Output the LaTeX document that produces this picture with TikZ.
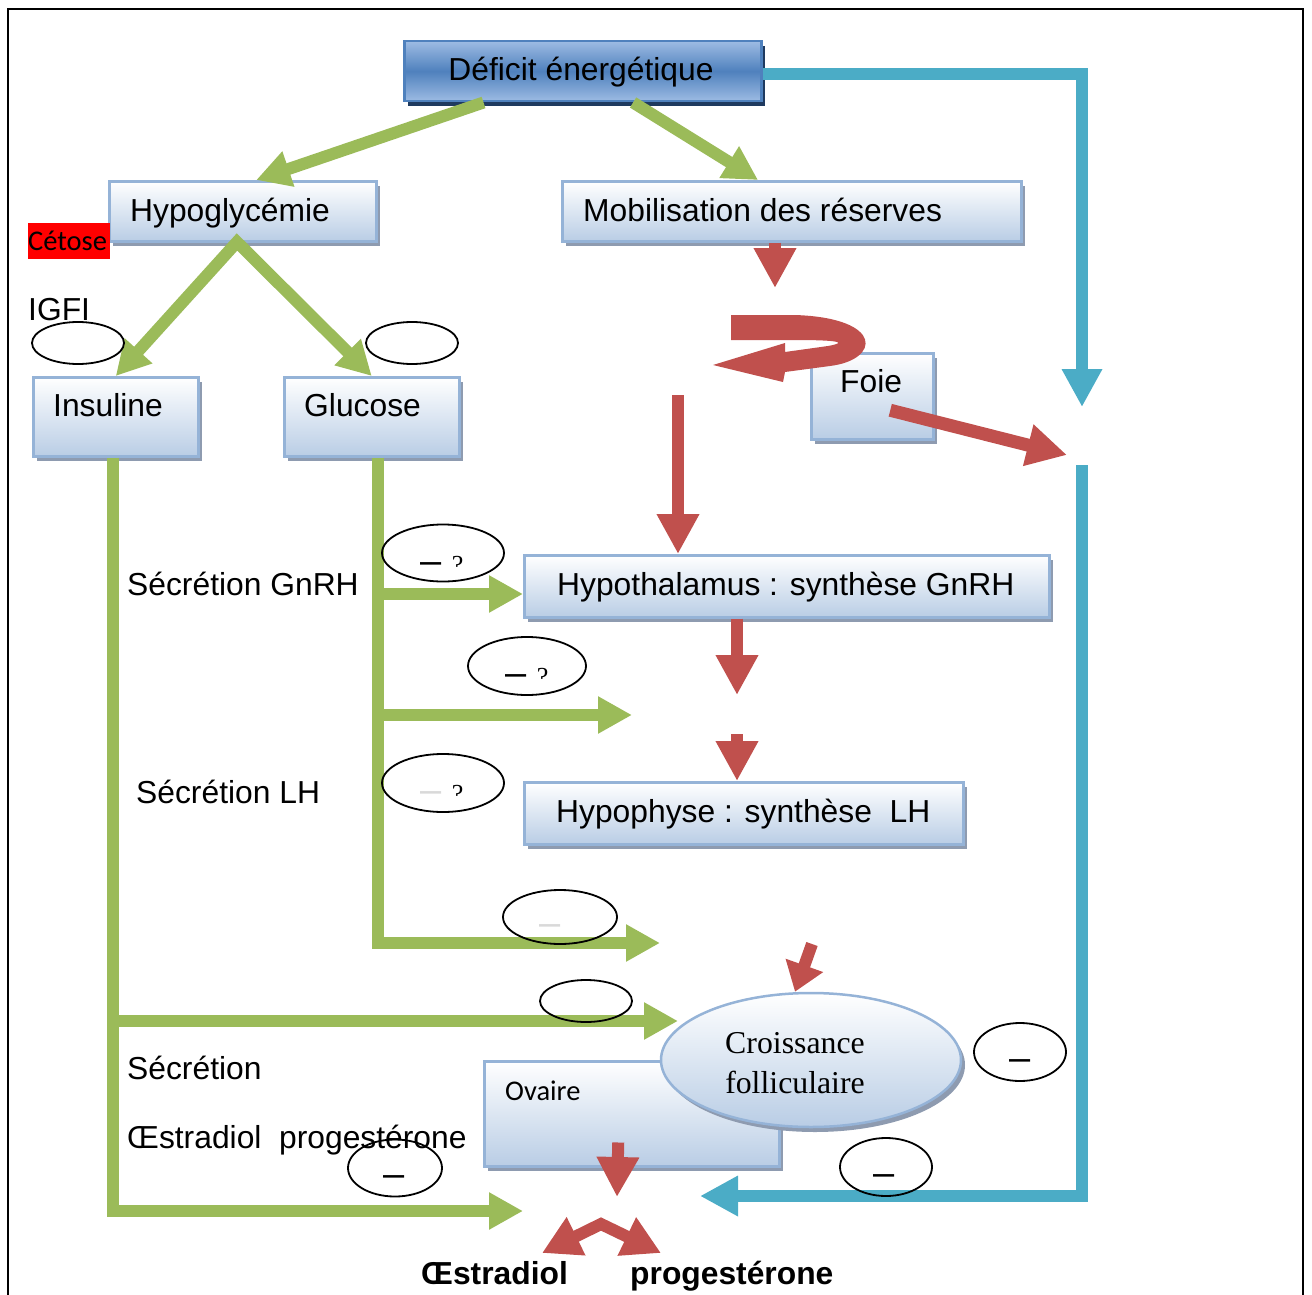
\documentclass[tikz,border=0pt]{standalone}
\usepackage{fontspec}
\setmainfont{Liberation Sans}
\newfontfamily\serifft{Liberation Serif}
\newfontfamily\calfont{Carlito}
\usepackage{tikz}
\usetikzlibrary{arrows.meta,shapes.geometric,shadows,calc}

\definecolor{grn}{HTML}{9BBB59}
\definecolor{rd}{HTML}{C0504D}
\definecolor{cyn}{HTML}{4BACC6}
\definecolor{bxb}{HTML}{95B3D7}
\definecolor{bxf}{HTML}{B9CDE5}
\definecolor{shd}{HTML}{8E9BB0}
\definecolor{dkb}{HTML}{4F81BD}
\definecolor{dkl}{HTML}{9DBBE3}
\definecolor{nvy}{HTML}{1F3A5F}

\newcommand\smq{{\serifft\fontsize{26}{28}\selectfont ?}}

\tikzset{
  bx/.style={draw=bxb, line width=2.5pt, top color=white, bottom color=bxf,
    inner sep=0pt, anchor=north west,
    drop shadow={shadow xshift=4pt, shadow yshift=-5pt, fill=#1, opacity=1}},
  bx/.default=shd,
  txt/.style={inner sep=0pt, anchor=base west, font=\fontsize{31.8}{38}\selectfont},
  garr/.style={draw=grn, line width=12pt, -{Triangle[width=35pt,length=34pt]}},
  rarr/.style={draw=rd, line width=12pt, -{Triangle[width=40pt,length=40pt]}},
  carr/.style={draw=cyn, line width=12pt, -{Triangle[width=38pt,length=38pt]}},
  oval/.style={draw, ellipse, line width=1.8pt, inner sep=0pt},
  mk/.style={inner sep=0pt, anchor=base west, font=\fontsize{38}{40}\selectfont},
}

\begin{document}
\begin{tikzpicture}[x=1pt,y=-1pt,line join=miter]
\useasboundingbox (0,0) rectangle (1312,1295);
% cadre
\draw[line width=2.5pt] (8,1300) |- (1303,9) -- (1303,1300);

% boites
\node[bx=nvy, draw=dkb, top color=dkl, bottom color=dkl, middle color=dkb,
  minimum width=357pt, minimum height=60pt] (deficit) at (403,40) {};
\node[bx, minimum width=267pt, minimum height=60pt] (hypo) at (108,180) {};
\node[bx, minimum width=459pt, minimum height=60pt] (mobil) at (561,180) {};
\node[bx, minimum width=165pt, minimum height=79pt] (insul) at (32,376) {};
\node[bx, minimum width=175pt, minimum height=79pt] (gluc) at (283,376) {};
\node[bx, minimum width=122pt, minimum height=86pt] (foie) at (810,352) {};
\node[bx, minimum width=525pt, minimum height=62pt] (hypoth) at (523,554) {};
\node[bx, minimum width=439pt, minimum height=62pt] (hypoph) at (523,781) {};
\node[bx, minimum width=295pt, minimum height=105pt] (ovaire) at (483,1060) {};
\node[bx, ellipse, anchor=center, minimum width=300pt, minimum height=134pt] (croiss) at (811,1060) {};
\node[fill=red, anchor=north west, minimum height=36pt, inner sep=0pt, text width=82pt,
  font=\calfont\fontsize{28.5}{30}\selectfont] (cetose) at (28,223) {Cétose};

% points libres
\coordinate (apex) at (237,242);
\coordinate (glB) at ($(gluc.south west)!.535!(gluc.south east)$);
\coordinate (insB) at ($(insul.south west)!.485!(insul.south east)$);
\coordinate (lhTip) at (632,715);
\coordinate (fTip) at (660,943);
\coordinate (croTip) at (678,1021);
\coordinate (oeTip) at (523,1211);
\coordinate (cyTop) at (1082,407);
\coordinate (cyBot) at (1082,465);
\coordinate (ovTip) at (700,1196);
\coordinate (foTip) at (775,288);
\coordinate (cyGap) at (1067,455);
\coordinate (hyIn) at (678,395);
\coordinate (lhA) at (737,695);
\coordinate (lhB) at (737,734);
\coordinate (crIn) at (812,944);
\coordinate (hoTip) at (617,1197);
\coordinate (spl) at (601,1224);
\coordinate (oeArr) at (542,1253);
\coordinate (prArr) at (661,1253);

% fleches vertes
\draw[garr] ($(deficit.south west)!.224!(deficit.south east)$) -- ($(hypo.north west)!.55!(hypo.north east)$);
\draw[garr] ($(deficit.south west)!.64!(deficit.south east)$) -- ($(mobil.north west)!.427!(mobil.north east)$);
\draw[garr, {Triangle[width=35pt,length=34pt]}-{Triangle[width=35pt,length=34pt]}] (insul.north) -- (apex) -- (gluc.north);
\draw[garr] (insB) |- (oeTip);
\draw[garr] (insB |- croTip) -- (croTip);
\draw[garr] (glB) |- (fTip);
\draw[garr] (glB |- 0,594) -- (hypoth.west |- 0,594);
\draw[garr] (glB |- lhTip) -- (lhTip);

% fleches bleues
\draw[carr] ([yshift=-3pt]deficit.east) -| (cyTop);
\draw[carr] (cyBot) |- (ovTip);

% fleches rouges
\draw[rarr] (mobil.south -| foTip) -- (foTip);
\fill[rd] (731,315) -- (795,315) .. controls (885,318) and (880,360) .. (830,366)
  -- (785,372) -- (783,382) -- (713,365) -- (785,343) -- (785,352) -- (828,346)
  .. controls (850,342) and (835,340) .. (795,340) -- (731,340) -- cycle;
\draw[rarr, line width=13pt] ($(foie.center)+(18,14)$) -- (cyGap);
\draw[rarr] (hyIn) -- (hypoth.north -| hyIn);
\draw[rarr] (hypoth.south -| lhA) -- (lhA);
\draw[rarr] (lhB) -- (hypoph.north -| lhB);
\draw[rarr, -{Triangle[width=38pt,length=28pt]}] (crIn) -- (croiss.north -| 795,0);
\draw[rarr] ($(ovaire.south)+(-13.5,-25)$) -- (hoTip);
\draw[draw=rd, line width=12pt, {Triangle[width=40pt,length=38pt]}-{Triangle[width=40pt,length=38pt]}] (oeArr) -- (spl) -- (prArr);

% textes
\node[txt, anchor=base] (tDef) at (581,81) {Déficit énergétique};
\node[txt] (tHypo) at (130,221) {Hypoglycémie};
\node[txt] (tMob) at (583,221) {Mobilisation des réserves};
\node[txt] (tIgf) at (28,320) {IGFI};
\node[txt] (tIns) at (53,416) {Insuline};
\node[txt] (tGlu) at (304,416) {Glucose};
\node[txt] (tFoie) at (840,392) {Foie};
\node[txt] (tGnrh) at (127,595) {Sécrétion GnRH};
\node[txt] (tHth) at (557,595) {Hypothalamus : synthèse GnRH};
\node[txt] (tLh) at (136,803) {Sécrétion LH};
\node[txt] (tHph) at (556,822) {Hypophyse : synthèse\ \ LH};
\node[txt] (tSec) at (127,1079) {Sécrétion};
\node[txt] (tOp) at (127,1148) {Œstradiol\ \ progestérone};
\node[txt, font=\calfont\fontsize{28.5}{30}\selectfont] (tOva) at (505,1100) {Ovaire};
\node[txt, anchor=base, font=\serifft\fontsize{31.8}{38}\selectfont] (tCro1) at (795,1053) {Croissance};
\node[txt, anchor=base, font=\serifft\fontsize{31.8}{38}\selectfont] (tCro2) at (795,1093) {folliculaire};
\node[txt, font=\bfseries\fontsize{31.8}{38}\selectfont] (tOe) at (421,1284) {Œstradiol};
\node[txt, font=\bfseries\fontsize{31.8}{38}\selectfont] (tPro) at (630,1284) {progestérone};

% ovales
\node[oval, minimum width=92pt, minimum height=42pt] (e1) at (78,343) {};
\node[oval, minimum width=92pt, minimum height=42pt] (e2) at (412,343) {};
\node[oval, minimum width=122pt, minimum height=57pt] (e3) at (443,553) {};
\node[oval, minimum width=118pt, minimum height=58pt] (e4) at (527,666) {};
\node[oval, minimum width=122pt, minimum height=58pt] (e5) at (443,783) {};
\node[oval, minimum width=114pt, minimum height=54pt] (e6) at (560,917) {};
\node[oval, minimum width=92pt, minimum height=42pt] (e7) at (586,1001) {};
\node[oval, minimum width=92pt, minimum height=58pt] (e8) at (1020,1052) {};
\node[oval, minimum width=92pt, minimum height=58pt] (e9) at (886,1167) {};
\node[oval, minimum width=94pt, minimum height=57pt] (e10) at (395,1168) {};

\begin{scope}
\clip (370,500) rectangle (520,566);
\node[mk] (q3) at (420,573.5) {– \smq};
\end{scope}
\begin{scope}
\clip (460,620) rectangle (600,678);
\node[mk] (q4) at (505,685.5) {– \smq};
\end{scope}
\begin{scope}
\clip (370,740) rectangle (520,795);
\node[mk] (q5) at (420,802.5) {\textcolor{black!15}{–} \smq};
\end{scope}
\node[mk, text=black!15] (m6) at (539,935) {–};
\node[mk] (m8) at (1009,1070) {–};
\node[mk] (m9) at (873,1185) {–};
\node[mk] (m10) at (383,1186) {–};
\end{tikzpicture}
\end{document}
